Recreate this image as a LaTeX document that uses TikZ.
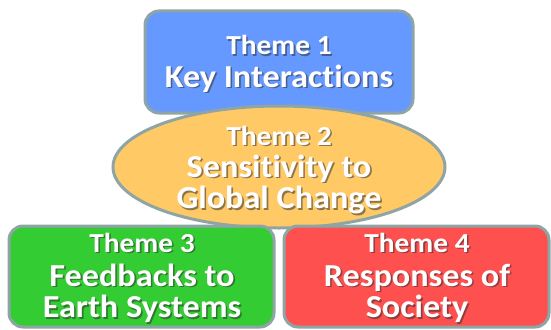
\documentclass[tikz,border=0pt]{standalone}
\usepackage{fontspec}
\setmainfont{Carlito}[Ligatures={NoCommon,NoDiscretionary}, FakeStretch=1.07]
\usetikzlibrary{shapes.geometric}
\definecolor{edgec}{HTML}{8FA5A5}
\definecolor{blueF}{HTML}{6699FF}
\definecolor{yellowF}{HTML}{FFC966}
\definecolor{greenF}{HTML}{33CC33}
\definecolor{redF}{HTML}{FF5050}
\definecolor{shadowc}{HTML}{303030}
\newcommand\shtext[4]{%
  \node[#3, text=shadowc, opacity=.55, xshift=1.6pt, yshift=-1.6pt] (#1s) at (#2) {#4};
  \node[#3] (#1) at (#2) {#4};}
\begin{document}
\begin{tikzpicture}[x=1pt,y=-1pt,
  box/.style={draw=edgec, line width=3pt, rounded corners=14pt, inner sep=0pt},
  oval/.style={ellipse, draw=edgec, line width=3pt, inner sep=0pt},
  lbl/.style={text=white, inner sep=0pt, anchor=base, font=\bfseries\fontsize{27.5}{27.5}\selectfont},
  ttl/.style={text=white, inner sep=0pt, anchor=base, font=\bfseries\fontsize{32}{32}\selectfont}]
\useasboundingbox (0,0) rectangle (551,329);
\node[box, fill=blueF, minimum width=268pt, minimum height=102pt] (b1) at (279,62) {};
\node[oval, fill=yellowF, minimum width=332pt, minimum height=122pt] (e2) at (279,167) {};
\node[box, fill=greenF, minimum width=265pt, minimum height=101pt] (b3) at (141.5,276.5) {};
\node[box, fill=redF, minimum width=265pt, minimum height=101pt] (b4) at (416.5,276.5) {};
\shtext{t1a}{279,55}{lbl}{Theme 1}
\shtext{t1b}{279,87}{ttl}{Key Interactions}
\shtext{t2a}{279,145}{lbl}{Theme 2}
\shtext{t2b}{279,177}{ttl}{Sensitivity to}
\shtext{t2c}{279,208.5}{ttl}{Global Change}
\shtext{t3a}{142,252}{lbl}{Theme 3}
\shtext{t3b}{142,286}{ttl}{Feedbacks to}
\shtext{t3c}{142,317.5}{ttl}{Earth Systems}
\shtext{t4a}{417,252}{lbl}{Theme 4}
\shtext{t4b}{417,286}{ttl}{Responses of}
\shtext{t4c}{417,317.5}{ttl}{Society}
\end{tikzpicture}
\end{document}
